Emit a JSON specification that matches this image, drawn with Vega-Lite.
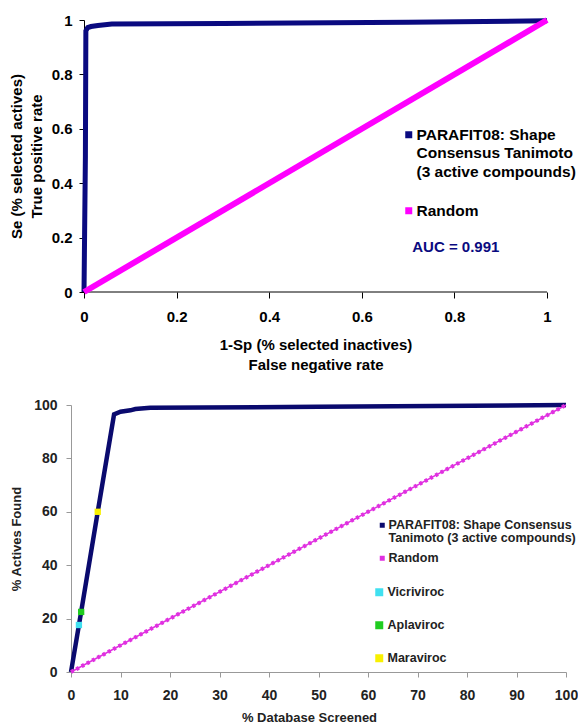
{
  "$schema": "https://vega.github.io/schema/vega-lite/v6.json",
  "padding": {"left": 9, "top": 8, "right": 0, "bottom": 0},
  "columns": 1,
  "spacing": 24,
  "resolve": {"scale": {"color": "independent", "fill": "independent"}, "legend": {"color": "independent", "fill": "independent"}},
  "config": {
    "view": {"stroke": null},
    "font": "Liberation Sans",
    "axis": {"grid": false, "labelFlush": false, "labelOverlap": false, "labelFont": "Liberation Sans", "titleFont": "Liberation Sans", "labelFontWeight": "bold", "titleFontWeight": "bold"},
    "legend": {"padding": 0, "labelFont": "Liberation Sans", "labelFontWeight": "bold", "labelLimit": 400}
  },
  "datasets": {
    "roc": [
      {"series": "PARAFIT", "fpr": 0, "tpr": 0},
      {"series": "PARAFIT", "fpr": 0.003, "tpr": 0.5},
      {"series": "PARAFIT", "fpr": 0.004, "tpr": 0.96},
      {"series": "PARAFIT", "fpr": 0.008, "tpr": 0.972},
      {"series": "PARAFIT", "fpr": 0.015, "tpr": 0.976},
      {"series": "PARAFIT", "fpr": 0.03, "tpr": 0.98},
      {"series": "PARAFIT", "fpr": 0.06, "tpr": 0.985},
      {"series": "PARAFIT", "fpr": 0.3, "tpr": 0.987},
      {"series": "PARAFIT", "fpr": 0.7, "tpr": 0.992},
      {"series": "PARAFIT", "fpr": 1, "tpr": 0.997},
      {"series": "Random", "fpr": 0, "tpr": 0},
      {"series": "Random", "fpr": 1, "tpr": 1}
    ],
    "enrich": [
      {"series": "PARAFIT", "db": 0, "found": 0},
      {"series": "PARAFIT", "db": 2, "found": 22},
      {"series": "PARAFIT", "db": 5.4, "found": 60},
      {"series": "PARAFIT", "db": 8.7, "found": 96.5},
      {"series": "PARAFIT", "db": 10, "found": 97.5},
      {"series": "PARAFIT", "db": 12, "found": 98},
      {"series": "PARAFIT", "db": 13, "found": 98.5},
      {"series": "PARAFIT", "db": 16, "found": 99},
      {"series": "PARAFIT", "db": 50, "found": 99.3},
      {"series": "PARAFIT", "db": 100, "found": 100},
      {"series": "Random", "db": 0, "found": 0},
      {"series": "Random", "db": 100, "found": 100}
    ],
    "compounds": [
      {"compound": "Vicriviroc", "db": 1.6, "found": 17.6},
      {"compound": "Aplaviroc", "db": 2.05, "found": 22.5},
      {"compound": "Maraviroc", "db": 5.4, "found": 60}
    ],
    "auc": [{"label": "AUC = 0.991"}]
  },
  "concat": [
    {
      "width": 476,
      "height": 272,
      "layer": [
        {
          "data": {"name": "auc"},
          "mark": {"type": "rule", "color": "#000000", "strokeWidth": 1},
          "encoding": {
            "x": {"datum": 0, "type": "quantitative"},
            "x2": {"datum": 1},
            "y": {"datum": 0, "type": "quantitative"}
          }
        },
        {
          "data": {"name": "roc"},
          "transform": [{"filter": "datum.series == 'PARAFIT'"}],
          "mark": {"type": "line", "strokeWidth": 5},
          "encoding": {
            "x": {"field": "fpr", "type": "quantitative", "scale": {"domain": [-0.0281, 1], "nice": false, "zero": false},
              "axis": {"values": [0, 0.2, 0.4, 0.6, 0.8, 1], "format": "~g", "title": ["1-Sp (% selected inactives)", "False negative rate"],
                "domain": false, "titleX": 244.5,
                "labelFontSize": 15, "titleFontSize": 15, "titleLineHeight": 20, "labelPadding": 11, "tickSize": 6, "titlePadding": 13,
                "tickColor": "#000000", "labelColor": "#000000", "titleColor": "#000000"}},
            "y": {"field": "tpr", "type": "quantitative", "scale": {"domain": [0, 1], "nice": false},
              "axis": {"values": [0, 0.2, 0.4, 0.6, 0.8, 1], "format": "~g", "title": ["Se (% selected actives)", "True positive rate"],
                "offset": -13,
                "labelFontSize": 15, "titleFontSize": 15, "titleLineHeight": 20, "labelPadding": 7, "tickSize": 5, "titlePadding": 7,
                "domainColor": "#000000", "tickColor": "#000000", "labelColor": "#000000", "titleColor": "#000000"}},
            "color": {"field": "series", "type": "nominal",
              "scale": {"domain": ["PARAFIT", "Random"], "range": ["#0a0a80", "#ff00ff"]},
              "legend": {"orient": "none", "legendX": 330, "legendY": 107, "title": null, "symbolType": "square", "symbolSize": 9, "symbolStrokeWidth": 4,
                "labelFontSize": 15.5, "labelOffset": 0, "rowPadding": 20, "labelColor": "#000000",
                "labelExpr": "datum.label == 'PARAFIT' ? ['PARAFIT08: Shape', 'Consensus Tanimoto', '(3 active compounds)'] : datum.label",
                "encode": {"labels": {"update": {"lineHeight": {"value": 18.5}}}}}}
          }
        },
        {
          "data": {"name": "roc"},
          "transform": [{"filter": "datum.series == 'Random'"}],
          "mark": {"type": "line", "strokeWidth": 6},
          "encoding": {
            "x": {"field": "fpr", "type": "quantitative"},
            "y": {"field": "tpr", "type": "quantitative"},
            "color": {"field": "series", "type": "nominal"}
          }
        },
        {
          "data": {"name": "auc"},
          "mark": {"type": "text", "align": "left", "baseline": "middle", "fontSize": 15, "fontWeight": "bold", "color": "#0a0a80"},
          "encoding": {
            "x": {"datum": 0.709, "type": "quantitative"},
            "y": {"datum": 0.165, "type": "quantitative"},
            "text": {"field": "label"}
          }
        }
      ]
    },
    {
      "width": 495,
      "height": 267,
      "layer": [
        {
          "data": {"name": "enrich"},
          "transform": [{"filter": "datum.series == 'PARAFIT'"}],
          "mark": {"type": "line", "strokeWidth": 4.5},
          "encoding": {
            "x": {"field": "db", "type": "quantitative", "scale": {"domain": [0, 100], "nice": false},
              "axis": {"values": [0, 10, 20, 30, 40, 50, 60, 70, 80, 90, 100], "title": "% Database Screened", "titleX": 238,
                "labelFontSize": 14, "titleFontSize": 13, "labelPadding": 11, "tickSize": 5, "titlePadding": 9,
                "domainColor": "#999999", "tickColor": "#999999", "labelColor": "#222222", "titleColor": "#222222"}},
            "y": {"field": "found", "type": "quantitative", "scale": {"domain": [0, 100], "nice": false},
              "axis": {"values": [0, 10, 20, 30, 40, 50, 60, 70, 80, 90, 100], "title": "% Actives Found",
                "labelFontSize": 14, "titleFontSize": 13, "labelPadding": 9, "tickSize": 5, "titlePadding": 10,
                "domainColor": "#999999", "tickColor": "#999999", "labelColor": "#222222", "titleColor": "#222222"}},
            "color": {"field": "series", "type": "nominal",
              "scale": {"domain": ["PARAFIT", "Random"], "range": ["#0a0a6e", "#e030e0"]},
              "legend": {"orient": "none", "legendX": 305, "legendY": 114, "title": null, "symbolType": "square", "symbolSize": 4, "symbolStrokeWidth": 3,
                "labelFontSize": 12.5, "labelOffset": 0, "rowPadding": 6, "labelColor": "#222222",
                "labelExpr": "datum.label == 'PARAFIT' ? ['PARAFIT08: Shape Consensus', 'Tanimoto (3 active compounds)'] : datum.label",
                "encode": {"labels": {"update": {"lineHeight": {"value": 13}}}}}}
          }
        },
        {
          "data": {"name": "enrich"},
          "transform": [{"filter": "datum.series == 'Random'"}],
          "mark": {"type": "line", "strokeWidth": 1.5},
          "encoding": {
            "x": {"field": "db", "type": "quantitative"},
            "y": {"field": "found", "type": "quantitative"},
            "color": {"field": "series", "type": "nominal"}
          }
        },
        {
          "data": {"name": "enrich"},
          "transform": [{"filter": "datum.series == 'Random'"}],
          "mark": {"type": "line", "strokeWidth": 4, "strokeDash": [3, 3], "color": "#e030e0"},
          "encoding": {
            "x": {"field": "db", "type": "quantitative"},
            "y": {"field": "found", "type": "quantitative"}
          }
        },
        {
          "data": {"name": "compounds"},
          "mark": {"type": "point", "shape": "square", "filled": true, "size": 40, "opacity": 1, "strokeWidth": 0},
          "encoding": {
            "x": {"field": "db", "type": "quantitative"},
            "y": {"field": "found", "type": "quantitative"},
            "fill": {"field": "compound", "type": "nominal",
              "scale": {"domain": ["Vicriviroc", "Aplaviroc", "Maraviroc"], "range": ["#40e0f0", "#20cc20", "#f8f000"]},
              "legend": {"orient": "none", "legendX": 302, "legendY": 181, "title": null, "symbolType": "square", "symbolSize": 64, "symbolStrokeWidth": 0,
                "labelFontSize": 12.5, "labelOffset": 2, "rowPadding": 20, "labelColor": "#222222"}}
          }
        }
      ]
    }
  ]
}
